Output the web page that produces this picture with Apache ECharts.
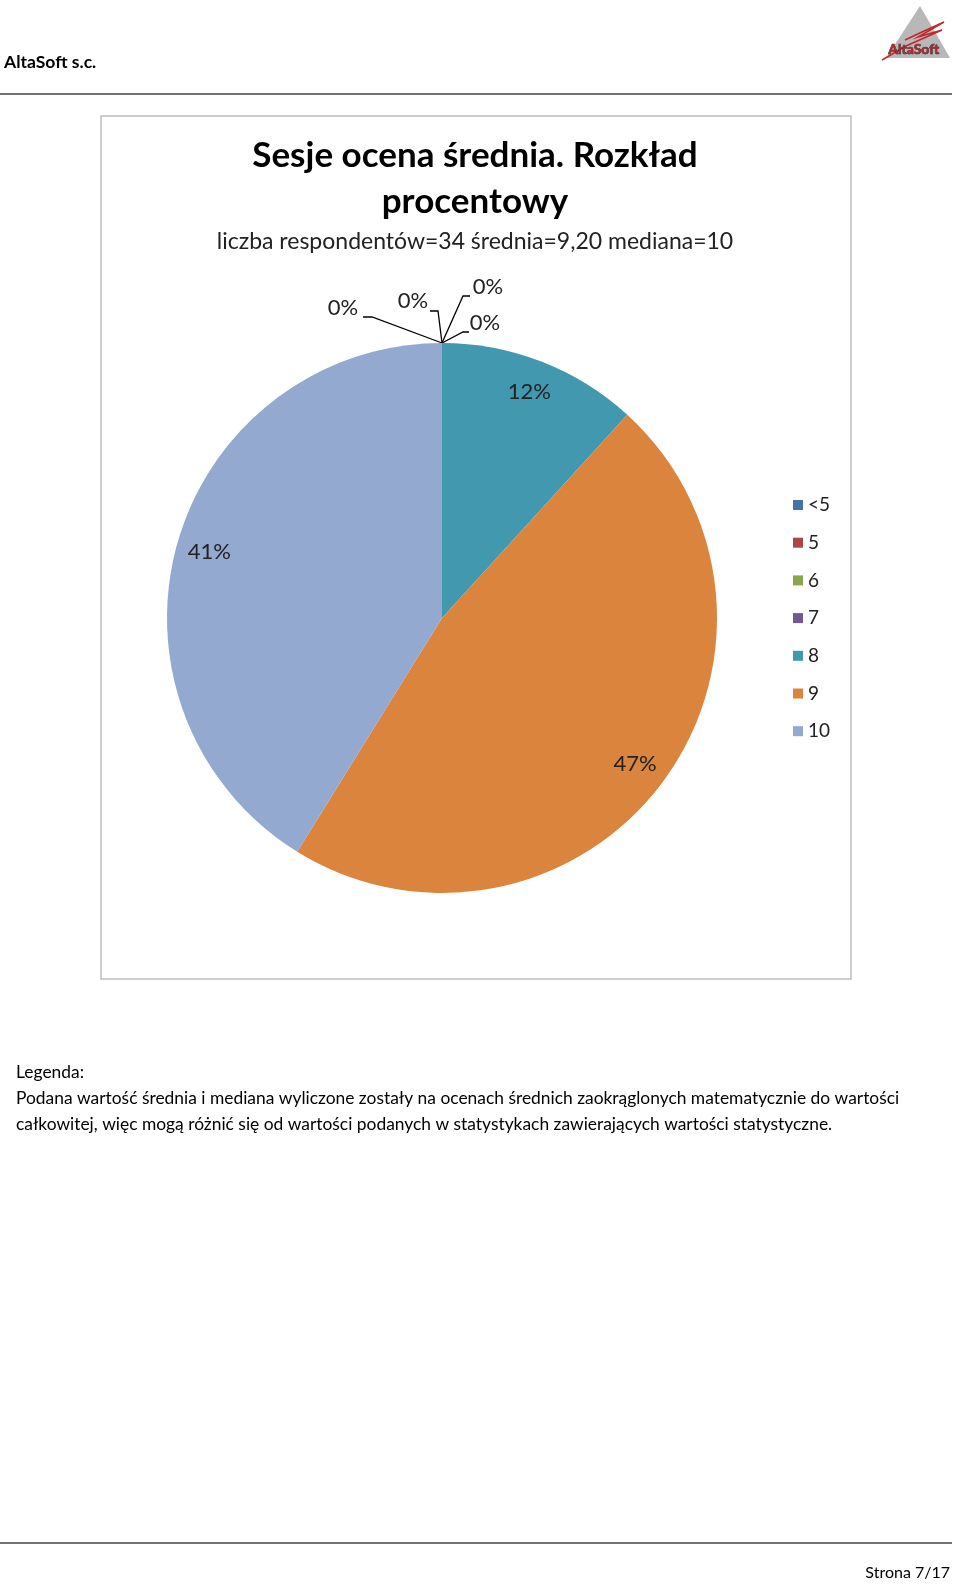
<!DOCTYPE html>
<html>
<head>
<meta charset="utf-8">
<script src="https://cdn.jsdelivr.net/npm/echarts@6/dist/echarts.min.js"></script>
<style>
  html, body { margin: 0; padding: 0; background: #fff; }
  #page { width: 960px; height: 1584px; }
</style>
</head>
<body>
<div id="page"></div>
<script>
// grades and respondent counts (34 in total)
const grades = ['<5', '5', '6', '7', '8', '9', '10'];
const counts = [0, 0, 0, 0, 4, 16, 14];
const colors = ['#4572A7', '#AA4643', '#89A54E', '#71588F', '#4198AF', '#DB843D', '#93A9CF'];

const titleText = 'Sesje ocena średnia. Rozkład\nprocentowy';
const subText = 'liczba respondentów=34 średnia=9,20 mediana=10';
const noteLines = [
  'Legenda:',
  'Podana wartość średnia i mediana wyliczone zostały na ocenach średnich zaokrąglonych matematycznie do wartości',
  'całkowitej, więc mogą różnić się od wartości podanych w statystykach zawierających wartości statystyczne.'
];

// where the 0% labels sit relative to the top of the pie, and their leader lines
const zeroLabelOffsets = [[-99, -35], [-29, -42], [46, -56], [43, -20]];
const zeroLabelLines = [
  [[-79, -26], [-70, -26]],
  [[-12, -32], [-4, -32]],
  [[28, -47], [21, -47]],
  [[27, -11], [21, -11]]
];

const font = 'Lato, "Noto Sans", sans-serif';
const center = [442, 618];
const pct = p => Math.round(p.percent) + '%';

const chart = echarts.init(document.getElementById('page'), null, { renderer: 'canvas' });

let zi = 0;
const zeroIdx = {};
counts.forEach((c, i) => { if (c === 0) zeroIdx[i] = zi++; });

chart.setOption({
  backgroundColor: '#fff',
  animation: false,
  color: colors,
  textStyle: { fontFamily: font },
  title: {
    text: titleText,
    subtext: subText,
    left: 470,
    top: 128,
    textAlign: 'center',
    itemGap: 4,
    textStyle: { fontFamily: font, fontSize: 35, fontWeight: 'bold', color: '#000', lineHeight: 46 },
    subtextStyle: { fontFamily: font, fontSize: 23, color: '#222', lineHeight: 26 }
  },
  legend: {
    orient: 'vertical',
    left: 788,
    top: 490,
    itemWidth: 10,
    itemHeight: 10,
    itemGap: 17.7,
    icon: 'rect',
    data: grades,
    textStyle: { fontFamily: font, fontSize: 19, color: '#222', lineHeight: 20 }
  },
  series: [
    {
      type: 'pie',
      center: center,
      radius: [0, 275],
      startAngle: 90,
      clockwise: true,
      avoidLabelOverlap: false,
      silent: true,
      data: grades.map((g, i) => ({
        name: g,
        value: counts[i],
        label: { show: counts[i] === 0 },
        labelLine: { show: counts[i] === 0 }
      })),
      label: {
        position: 'outside',
        formatter: pct,
        fontFamily: font,
        fontSize: 22,
        color: '#222'
      },
      labelLine: { lineStyle: { color: '#000', width: 1.3 } },
      labelLayout: function (p) {
        const k = zeroIdx[p.dataIndex];
        if (k === undefined || !p.labelLinePoints) return {};
        const a = p.labelLinePoints[0];
        const o = zeroLabelOffsets[k];
        const l = zeroLabelLines[k];
        return {
          x: a[0] + o[0],
          y: a[1] + o[1],
          align: 'center',
          verticalAlign: 'middle',
          labelLinePoints: [
            [a[0] + l[0][0], a[1] + l[0][1]],
            [a[0] + l[1][0], a[1] + l[1][1]],
            [a[0], a[1]]
          ]
        };
      }
    },
    {
      // transparent ring that only carries the in-slice percentage labels
      type: 'pie',
      center: center,
      radius: [203, 275],
      startAngle: 90,
      clockwise: true,
      silent: true,
      avoidLabelOverlap: false,
      itemStyle: { color: 'rgba(0,0,0,0)' },
      data: grades.map((g, i) => ({
        name: g,
        value: counts[i],
        label: { show: counts[i] > 0 }
      })),
      label: {
        position: 'inside',
        formatter: pct,
        fontFamily: font,
        fontSize: 22,
        color: '#222'
      },
      labelLine: { show: false }
    }
  ],
  graphic: [
    // page header
    { type: 'text', left: 4, top: 53, style: { text: 'AltaSoft s.c.', font: 'bold 17.5px ' + font, fill: '#000' } },
    { type: 'line', shape: { x1: 0, y1: 94, x2: 952, y2: 94 }, style: { stroke: '#444', lineWidth: 1.5 } },
    // logo
    { type: 'polygon', shape: { points: [[920, 6], [886, 58], [950, 58]] }, style: { fill: '#b8b8b8' } },
    { type: 'polyline', shape: { points: [[905, 40], [922, 32], [944, 22], [918, 37], [942, 30], [906, 46], [882, 60]] }, style: { stroke: '#c0282d', lineWidth: 1.5, fill: null } },
    { type: 'text', left: 888, top: 42, style: { text: 'AltaSoft', font: 'bold 14px ' + font, fill: '#b0272c', stroke: '#222', lineWidth: 0.6 } },
    // chart frame
    { type: 'rect', shape: { x: 101, y: 116, width: 750, height: 863 }, style: { fill: null, stroke: '#bfbfbf', lineWidth: 1.5 }, z: -1 },
    // note below the chart
    { type: 'text', left: 16, top: 1064, style: { text: noteLines[0], font: '17.4px ' + font, fill: '#000' } },
    { type: 'text', left: 16, top: 1090, style: { text: noteLines[1], font: '17.4px ' + font, fill: '#000' } },
    { type: 'text', left: 16, top: 1116, style: { text: noteLines[2], font: '17.4px ' + font, fill: '#000' } },
    // page footer
    { type: 'line', shape: { x1: 0, y1: 1543, x2: 952, y2: 1543 }, style: { stroke: '#444', lineWidth: 1.5 } },
    { type: 'text', right: 10, top: 1565, style: { text: 'Strona 7/17', font: '16px ' + font, fill: '#000' } }
  ]
});

window.onresize = function () { chart.resize(); };
</script>
</body>
</html>
